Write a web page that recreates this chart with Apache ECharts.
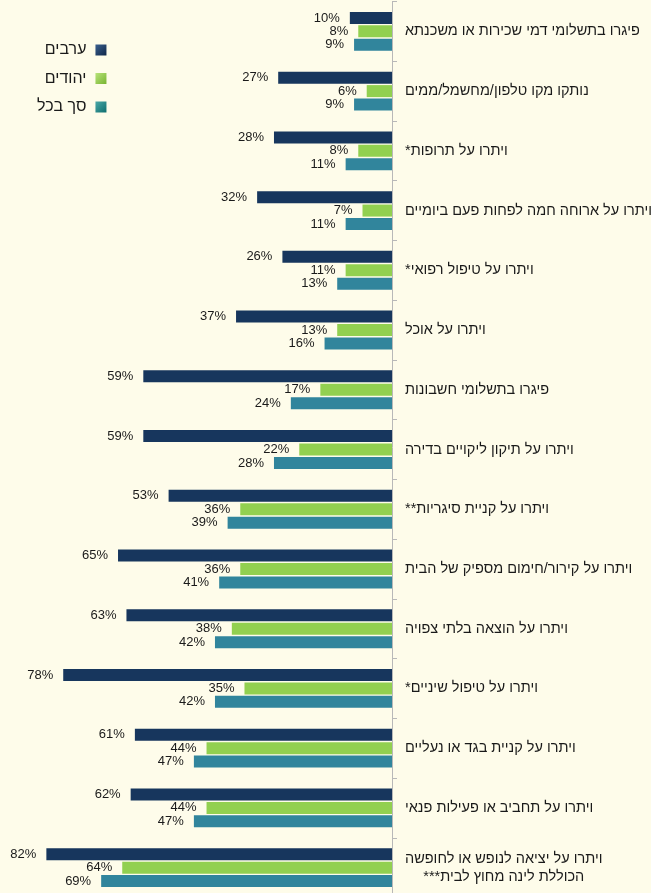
<!DOCTYPE html>
<html>
<head>
<meta charset="utf-8">
<script src="https://cdn.jsdelivr.net/npm/echarts@6/dist/echarts.min.js"></script>
<style>
html,body{margin:0;padding:0;background:#fefcea;}
#chart{width:651px;height:893px;}
</style>
</head>
<body>
<div id="chart" dir="rtl"></div>
<script>
const categories = [
  'פיגרו בתשלומי דמי שכירות או משכנתא',
  'נותקו מקו טלפון/מחשמל/ממים',
  'ויתרו על תרופות*',
  'ויתרו על ארוחה חמה לפחות פעם ביומיים',
  'ויתרו על טיפול רפואי*',
  'ויתרו על אוכל',
  'פיגרו בתשלומי חשבונות',
  'ויתרו על תיקון ליקויים בדירה',
  'ויתרו על קניית סיגריות**',
  'ויתרו על קירור/חימום מספיק של הבית',
  'ויתרו על הוצאה בלתי צפויה',
  'ויתרו על טיפול שיניים*',
  'ויתרו על קניית בגד או נעליים',
  'ויתרו על תחביב או פעילות פנאי',
  'ויתרו על יציאה לנופש או לחופשה\nהכוללת לינה מחוץ לבית***'
];
const seriesNames = ['ערבים', 'יהודים', 'סך בכל'];
const arabs  = [10, 27, 28, 32, 26, 37, 59, 59, 53, 65, 63, 78, 61, 62, 82];
const jews   = [8, 6, 8, 7, 11, 13, 17, 22, 36, 36, 38, 35, 44, 44, 64];
const total  = [9, 9, 11, 11, 13, 16, 24, 28, 39, 41, 42, 42, 47, 47, 69];
const colors = ['#17365d', '#92d050', '#31859c'];
const iconColors = [['#3a5f8e', '#0f2748'], ['#b8e37a', '#78b431'], ['#4aa8a8', '#0f6e6e']];

const chart = echarts.init(document.getElementById('chart'));
const font = "'Liberation Sans', Arial, sans-serif";

function mk(i, data) {
  return {
    name: seriesNames[i],
    type: 'bar',
    data: data,
    barWidth: 12,
    barGap: '12%',
    itemStyle: { color: colors[i] },
    label: {
      show: true,
      position: 'left',
      distance: 10,
      formatter: '{c}%',
      color: '#1a1a1a',
      fontSize: 13,
      fontFamily: font
    },
    emphasis: { disabled: true },
    animation: false
  };
}

chart.setOption({
  backgroundColor: '#fefcea',
  animation: false,
  legend: {
    orient: 'vertical',
    left: 32,
    top: 37,
    align: 'right',
    itemWidth: 11,
    itemHeight: 11,
    itemGap: 12.5,
    icon: 'rect',
    selectedMode: false,
    textStyle: { fontSize: 16, color: '#1a1a1a', fontFamily: font, width: 47, align: 'right', padding: [0, 4, 0, 0] },
    data: seriesNames.map((n, i) => ({
      name: n,
      itemStyle: {
        color: new echarts.graphic.LinearGradient(0, 0, 1, 1, [
          { offset: 0, color: iconColors[i][0] },
          { offset: 1, color: iconColors[i][1] }
        ])
      }
    }))
  },
  grid: { left: 0, width: 392, top: 1.5, height: 896, containLabel: false, outerBoundsMode: 'none' },
  xAxis: {
    type: 'value',
    inverse: true,
    min: 0,
    max: 93,
    show: false
  },
  yAxis: {
    type: 'category',
    inverse: true,
    position: 'right',
    data: categories,
    axisLine: { show: true, lineStyle: { color: '#b8b8b8', width: 1 } },
    axisTick: { show: true, length: 5, lineStyle: { color: '#b8b8b8' } },
    axisLabel: {
      margin: 13,
      align: 'left',
      color: '#1a1a1a',
      fontSize: 14.5,
      fontFamily: font,
      lineHeight: 18,
      formatter: function (v) {
        if (v.indexOf('\n') >= 0) {
          return v.split('\n').map(s => '{c|' + s + '}').join('\n');
        }
        return v;
      },
      rich: { c: { align: 'center', fontSize: 14.5, fontFamily: font, color: '#1a1a1a', lineHeight: 18 } }
    }
  },
  series: [mk(0, arabs), mk(1, jews), mk(2, total)]
});
</script>
</body>
</html>
